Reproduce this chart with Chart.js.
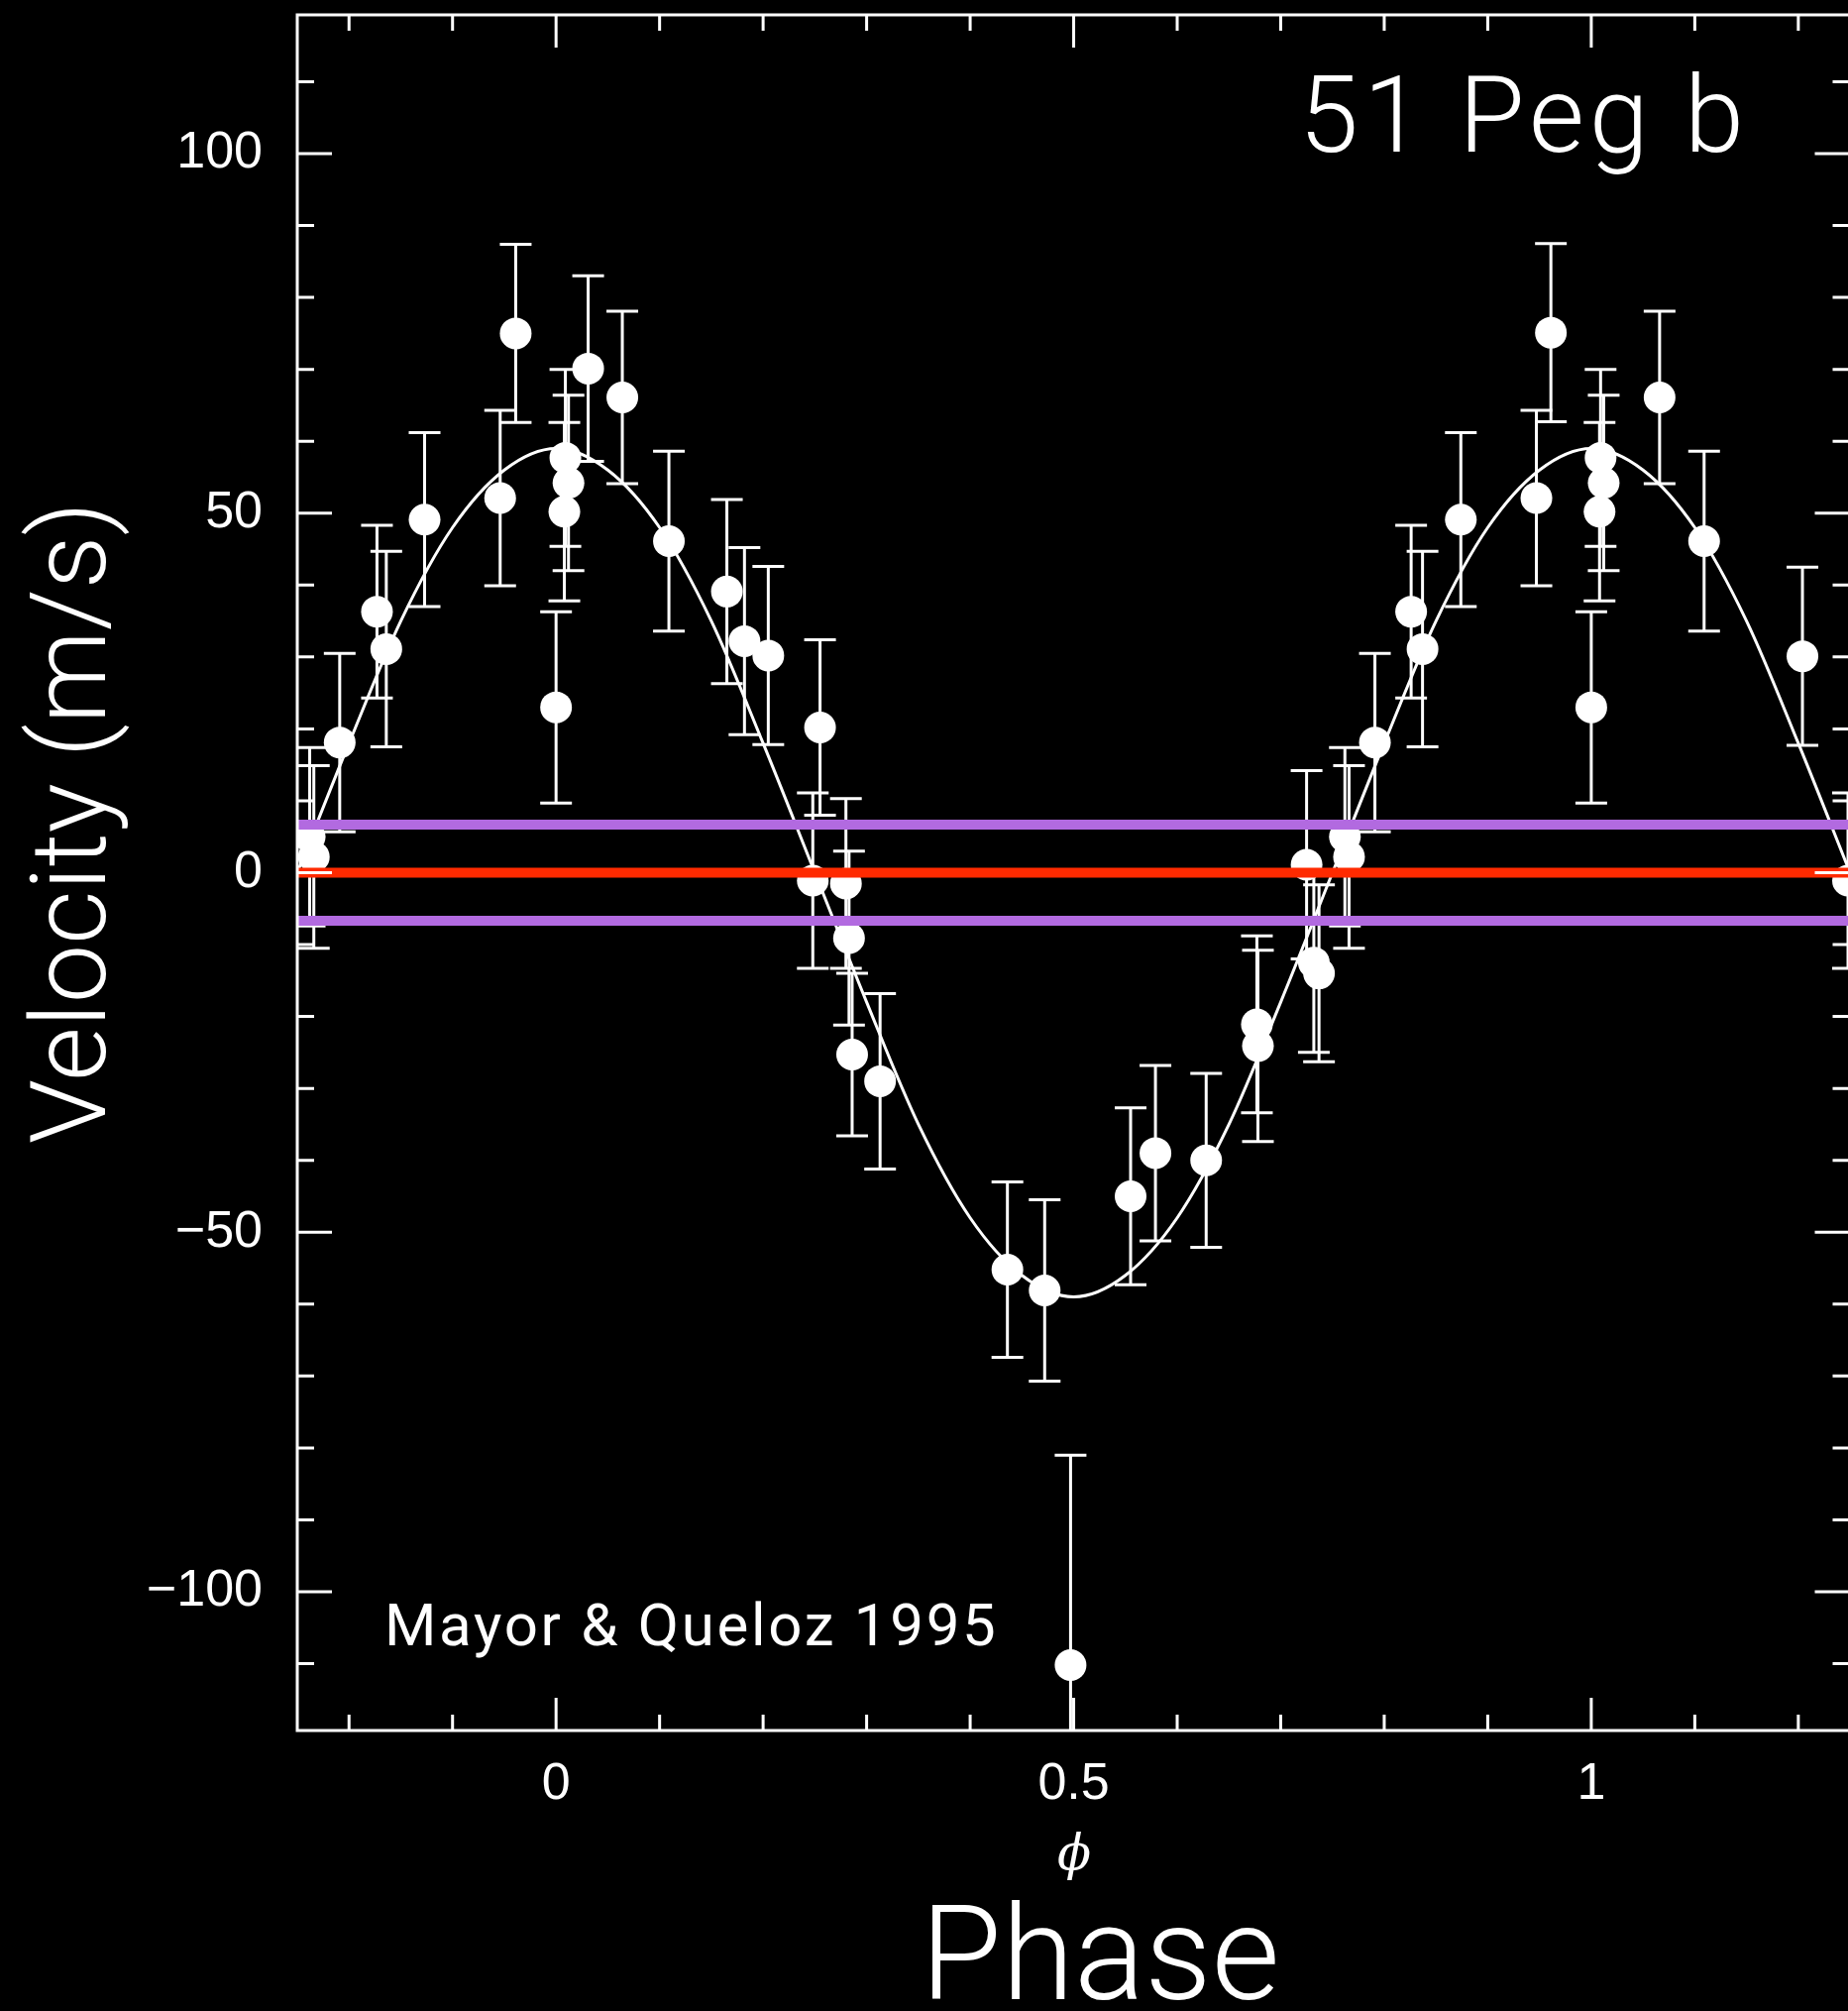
<!DOCTYPE html>
<html>
<head>
<meta charset="utf-8">
<script src="https://cdn.jsdelivr.net/npm/chart.js@4.4.1/dist/chart.umd.min.js"></script>
<style>
  html, body { margin: 0; padding: 0; background: #000; }
  canvas { display: block; }
</style>
</head>
<body>
<canvas id="rvChart" width="1865" height="2029"></canvas>
<script>
// orbital phase, radial velocity (m/s) and 1-sigma error of each measurement
const phase = [
  -0.238, -0.234, -0.209, -0.173, -0.164, -0.127, -0.054, -0.039,
  0.000, 0.008, 0.009, 0.012, 0.031, 0.064, 0.109, 0.165, 0.182, 0.205,
  0.248, 0.255, 0.280, 0.283, 0.286, 0.313,
  0.436, 0.472, 0.497, 0.555, 0.579, 0.628, 0.677, 0.678,
  0.725, 0.732, 0.737, 0.762, 0.766, 0.791, 0.826, 0.837, 0.874, 0.947, 0.961,
  1.000, 1.008, 1.009, 1.012, 1.066, 1.109, 1.204, 1.248
];
const velocity = [
  5.0, 2.2, 18.1, 36.3, 31.1, 49.1, 52.1, 75.0,
  23.0, 50.2, 57.7, 54.2, 70.1, 66.1, 46.1, 39.1, 32.2, 30.2,
  -1.1, 20.2, -1.5, -9.1, -25.3, -29.0,
  -55.2, -58.1, -110.2, -45.0, -39.0, -40.0, -21.1, -24.1,
  1.1, -12.5, -14.0, 5.0, 2.2, 18.1, 36.3, 31.1, 49.1, 52.1, 75.1,
  23.0, 50.2, 57.7, 54.2, 66.1, 46.1, 30.1, -1.1
];
const velocityError = [
  12.4, 12.7, 12.4, 12.0, 13.6, 12.1, 12.2, 12.4,
  13.3, 12.4, 12.3, 12.2, 12.9, 12.0, 12.5, 12.8, 13.0, 12.4,
  12.2, 12.2, 11.8, 12.1, 11.3, 12.2,
  12.2, 12.6, 29.2, 12.3, 12.2, 12.1, 12.3, 13.3,
  13.1, 12.5, 12.3, 12.4, 12.7, 12.4, 12.0, 13.6, 12.1, 12.2, 12.4,
  13.3, 12.4, 12.3, 12.2, 12.0, 12.5, 12.4, 12.2
];

// orbital fit, sampled every 0.05 in phase
const fitPhase = [
  -0.25, -0.20, -0.15, -0.10, -0.05, 0.00, 0.05, 0.10, 0.15, 0.20,
  0.25, 0.30, 0.35, 0.40, 0.45, 0.50, 0.55, 0.60, 0.65, 0.70,
  0.75, 0.80, 0.85, 0.90, 0.95, 1.00, 1.05, 1.10, 1.15, 1.20, 1.25
];
const fitVelocity = [
  0, 18, 35, 48, 56, 59, 56, 48, 35, 18,
  0, -18, -35, -48, -56, -59, -56, -48, -35, -18,
  0, 18, 35, 48, 56, 59, 56, 48, 35, 18, 0
];

// reference lines: zero velocity and the +/- band around it
const zeroVelocity = 0;
const bandVelocity = [6.7, -6.7];

const xLabelTicks = [0, 0.5, 1];
const xMinorTicks = [-0.2, -0.1, 0.1, 0.2, 0.3, 0.4, 0.6, 0.7, 0.8, 0.9, 1.1, 1.2];
const yLabelTicks = [-100, -50, 0, 50, 100];
const yMinorTicks = [-110, -90, -80, -70, -60, -40, -30, -20, -10, 10, 20, 30, 40, 60, 70, 80, 90, 110];

const tickFont = "'Liberation Sans', 'DejaVu Sans', sans-serif";
const titleFont = "Roboto, 'Open Sans', sans-serif";

const asPoints = (xs, ys) => xs.map((x, i) => ({ x, y: ys[i] }));
const flatLine = v => [{ x: -0.25, y: v }, { x: 1.25, y: v }];

const errorBars = {
  id: 'errorBars',
  beforeDatasetsDraw(chart) {
    const { ctx, chartArea: a, scales: { x, y } } = chart;
    ctx.save();
    ctx.beginPath();
    ctx.rect(a.left, a.top, a.right - a.left, a.bottom - a.top);
    ctx.clip();
    ctx.strokeStyle = '#fff';
    ctx.lineWidth = 3;
    phase.forEach((p, i) => {
      const px = x.getPixelForValue(p);
      const hi = y.getPixelForValue(velocity[i] + velocityError[i]);
      const lo = y.getPixelForValue(velocity[i] - velocityError[i]);
      ctx.beginPath();
      ctx.moveTo(px, hi); ctx.lineTo(px, lo);
      ctx.moveTo(px - 16, hi); ctx.lineTo(px + 16, hi);
      ctx.moveTo(px - 16, lo); ctx.lineTo(px + 16, lo);
      ctx.stroke();
    });
    ctx.restore();
  }
};

// box round the plot with inward ticks on all four sides
const frame = {
  id: 'frame',
  afterDatasetsDraw(chart) {
    const { ctx, chartArea: a, scales: { x, y } } = chart;
    ctx.save();
    ctx.strokeStyle = '#fff';
    ctx.lineWidth = 3;
    ctx.beginPath();
    ctx.moveTo(a.right + 2, a.top);
    ctx.lineTo(a.left, a.top);
    ctx.lineTo(a.left, a.bottom);
    ctx.lineTo(a.right + 2, a.bottom);
    ctx.stroke();

    const right = a.right + 1.5;
    const xTick = (v, len) => {
      const px = x.getPixelForValue(v);
      ctx.moveTo(px, a.bottom); ctx.lineTo(px, a.bottom - len);
      ctx.moveTo(px, a.top); ctx.lineTo(px, a.top + len);
    };
    const yTick = (v, len) => {
      const py = y.getPixelForValue(v);
      ctx.moveTo(a.left, py); ctx.lineTo(a.left + len, py);
      ctx.moveTo(right, py); ctx.lineTo(right - len, py);
    };
    ctx.beginPath();
    xMinorTicks.forEach(v => xTick(v, 16));
    xLabelTicks.forEach(v => xTick(v, 33));
    yMinorTicks.forEach(v => yTick(v, 17));
    yLabelTicks.forEach(v => yTick(v, 35));
    ctx.stroke();
    ctx.restore();
  }
};

const annotations = {
  id: 'annotations',
  afterDraw(chart) {
    const { ctx } = chart;
    ctx.save();
    ctx.fillStyle = '#fff';
    ctx.textBaseline = 'alphabetic';
    ctx.textAlign = 'left';

    ctx.font = `300 108px ${titleFont}`;
    ctx.letterSpacing = '5px';
    ctx.fillText('51 Peg b', 1311, 153);

    ctx.font = `400 60px ${titleFont}`;
    ctx.letterSpacing = '2.7px';
    ctx.fillText('Mayor & Queloz 1995', 388, 1660);

    ctx.letterSpacing = '0px';
    ctx.font = `300 133px ${titleFont}`;
    ctx.fillText('Phase', 929, 2017);

    ctx.font = `italic 50px 'DejaVu Serif', serif`;
    ctx.textAlign = 'center';
    ctx.textBaseline = 'middle';
    ctx.fillText('\u03d5', 1084, 1873);

    ctx.translate(106, 830);
    ctx.rotate(-Math.PI / 2);
    ctx.font = `300 106px ${titleFont}`;
    ctx.textBaseline = 'alphabetic';
    ctx.fillText('Velocity (m/s)', 0, 0);
    ctx.restore();
  }
};

const fmt = v => (v < 0 ? '\u2212' + Math.abs(v) : String(v));

// keep the plot box where the layout puts it: no room reserved for edge labels
const noEdgePadding = axis => {
  axis.paddingTop = 0;
  axis.paddingBottom = 0;
  axis.paddingLeft = 0;
  axis.paddingRight = 0;
};

new Chart(document.getElementById('rvChart'), {
  type: 'line',
  data: {
    datasets: [
      {
        label: 'zero',
        data: flatLine(zeroVelocity),
        borderColor: '#ff2a00',
        borderWidth: 10,
        pointRadius: 0,
        order: 0
      },
      {
        label: 'band upper',
        data: flatLine(bandVelocity[0]),
        borderColor: '#b26ae0',
        borderWidth: 10,
        pointRadius: 0,
        order: 0
      },
      {
        label: 'band lower',
        data: flatLine(bandVelocity[1]),
        borderColor: '#b26ae0',
        borderWidth: 10,
        pointRadius: 0,
        order: 0
      },
      {
        label: 'measurements',
        data: asPoints(phase, velocity),
        showLine: false,
        pointRadius: 16,
        pointBackgroundColor: '#fff',
        pointBorderWidth: 0,
        order: 1
      },
      {
        label: 'orbit fit',
        data: asPoints(fitPhase, fitVelocity),
        borderColor: '#fff',
        borderWidth: 3,
        pointRadius: 0,
        cubicInterpolationMode: 'monotone',
        order: 2
      }
    ]
  },
  options: {
    responsive: false,
    devicePixelRatio: 1,
    animation: false,
    layout: {
      autoPadding: false,
      padding: { top: 15, left: 0, right: 0, bottom: 0 }
    },
    plugins: {
      legend: { display: false },
      tooltip: { enabled: false }
    },
    scales: {
      x: {
        type: 'linear',
        min: -0.25,
        max: 1.248,
        grid: { display: false, drawTicks: false },
        border: { display: false },
        afterBuildTicks: axis => { axis.ticks = xLabelTicks.map(value => ({ value })); },
        afterFit: axis => { axis.height = 283; noEdgePadding(axis); },
        ticks: {
          color: '#fff',
          font: { family: tickFont, size: 52 },
          padding: 23,
          autoSkip: false,
          maxRotation: 0,
          callback: v => fmt(v)
        }
      },
      y: {
        type: 'linear',
        min: -119.3,
        max: 119.3,
        grid: { display: false, drawTicks: false },
        border: { display: false },
        afterBuildTicks: axis => { axis.ticks = yLabelTicks.map(value => ({ value })); },
        afterFit: axis => { axis.width = 300; noEdgePadding(axis); },
        ticks: {
          color: '#fff',
          font: { family: tickFont, size: 52 },
          padding: 35,
          autoSkip: false,
          callback: v => fmt(v)
        }
      }
    }
  },
  plugins: [errorBars, frame, annotations]
});
</script>
</body>
</html>
